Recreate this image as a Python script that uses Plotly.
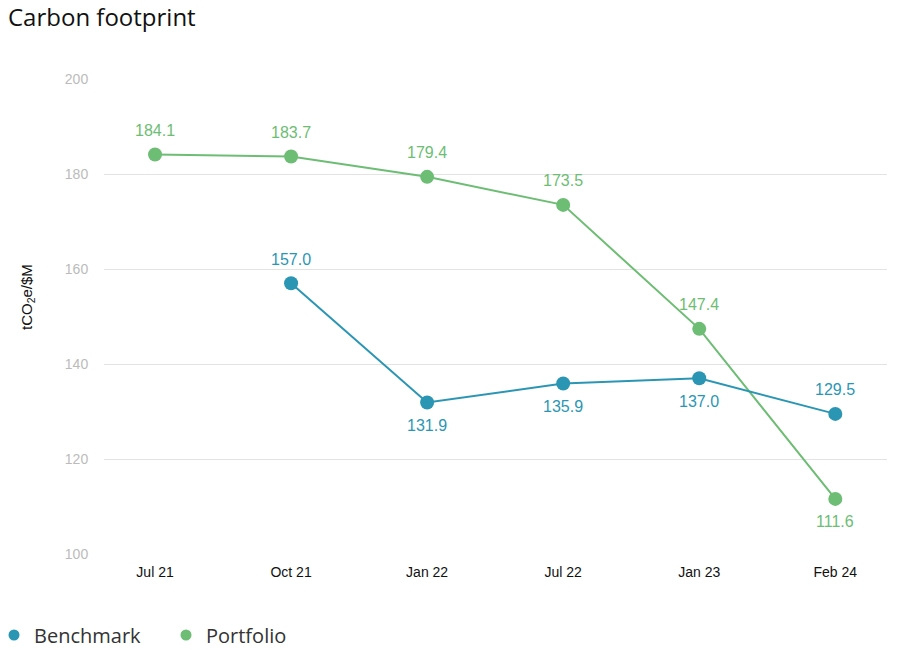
import plotly.graph_objects as go

categories = ["Jul 21", "Oct 21", "Jan 22", "Jul 22", "Jan 23", "Feb 24"]
benchmark = [None, 157.0, 131.9, 135.9, 137.0, 129.5]
portfolio = [184.1, 183.7, 179.4, 173.5, 147.4, 111.6]
bench_above = [True, True, False, False, False, True]
port_above = [True, True, True, True, True, False]

BLUE = "#2b96b3"
GREEN = "#6dbd74"

fig = go.Figure()
fig.add_trace(go.Scatter(
    x=categories, y=portfolio, mode="lines+markers",
    line=dict(color=GREEN, width=2), marker=dict(size=14, color=GREEN),
    showlegend=False, cliponaxis=False))
fig.add_trace(go.Scatter(
    x=categories, y=benchmark, mode="lines+markers",
    line=dict(color=BLUE, width=2), marker=dict(size=14, color=BLUE),
    showlegend=False, cliponaxis=False))
fig.add_trace(go.Scatter(x=[None], y=[None], mode="markers", name="Benchmark",
                         marker=dict(size=11, color=BLUE)))
fig.add_trace(go.Scatter(x=[None], y=[None], mode="markers", name="Portfolio",
                         marker=dict(size=11, color=GREEN)))

annotations = []
for vals, above, col in [(portfolio, port_above, GREEN), (benchmark, bench_above, BLUE)]:
    for c, v, a in zip(categories, vals, above):
        if v is None:
            continue
        annotations.append(dict(x=c, y=v, xref="x", yref="y", text=f"{v:.1f}", showarrow=False,
                                yshift=24 if a else -23, xanchor="center", yanchor="middle",
                                font=dict(size=16, color=col, family="Liberation Sans")))
annotations.append(dict(text="tCO<sub>2</sub>e/$M", textangle=-90, xref="paper", yref="paper",
                        x=(19 - 96) / 783, y=(546 - 289) / 475, xanchor="center", yanchor="middle",
                        showarrow=False, font=dict(size=15, color="#111", family="Liberation Sans")))

fig.update_layout(
    width=902, height=650,
    margin=dict(l=96, r=23, t=71, b=104, autoexpand=False),
    paper_bgcolor="white", plot_bgcolor="white",
    font=dict(family="Open Sans", color="#222"),
    title=dict(text="Carbon footprint", x=0, xanchor="left", y=1 - 10 / 650, yanchor="middle",
               font=dict(size=24, color="#111", family="Open Sans")),
    xaxis=dict(type="category", categoryorder="array", categoryarray=categories,
               range=[-0.375, 5.38], showgrid=False, zeroline=False, showline=False,
               ticks="outside", ticklen=5, tickcolor="white",
               tickfont=dict(size=14, color="#111", family="Liberation Sans")),
    yaxis=dict(range=[100, 200], tickvals=[100, 120, 140, 160, 180, 200],
               showgrid=True, gridcolor="#e3e3e3", gridwidth=1, zeroline=False,
               ticks="outside", ticklen=12, tickcolor="white",
               tickfont=dict(size=14, color="#bbbbbb", family="Liberation Sans")),
    legend=dict(orientation="h", xref="paper", yref="paper", x=(-14 - 96) / 783, y=(546 - 627) / 475,
                xanchor="left", yanchor="middle",
                font=dict(size=20, color="#333", family="Open Sans"),
                itemwidth=30, entrywidth=127, entrywidthmode="pixels"),
    annotations=annotations,
)
fig.write_html("out.html")
